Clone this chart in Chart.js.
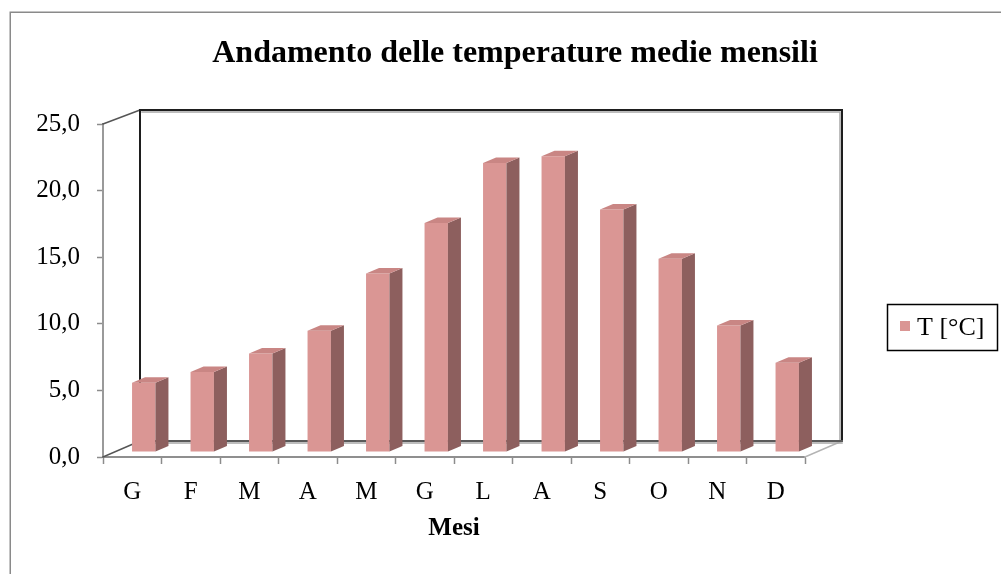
<!DOCTYPE html>
<html lang="it">
<head>
<meta charset="utf-8">
<title>Andamento delle temperature medie mensili</title>
<script src="https://cdn.jsdelivr.net/npm/chart.js@4.4.1/dist/chart.umd.min.js"></script>
<style>
  html, body { margin: 0; padding: 0; background: #ffffff; overflow: hidden; }
  canvas { display: block; }
</style>
</head>
<body>
<canvas id="chart" width="1001" height="574"></canvas>
<script>
// Mesi dell'anno (iniziali)
const months = ['G', 'F', 'M', 'A', 'M', 'G', 'L', 'A', 'S', 'O', 'N', 'D'];
// Temperature medie mensili [°C]
const temperatures = [5.2, 6.0, 7.4, 9.1, 13.4, 17.2, 21.7, 22.2, 18.2, 14.5, 9.5, 6.7];
// Etichette dell'asse verticale
const yTickLabels = ['0,0', '5,0', '10,0', '15,0', '20,0', '25,0'];
const seriesLabel = 'T [°C]';
const chartTitle = 'Andamento delle temperature medie mensili';
const axisTitle = 'Mesi';

const SERIF = "'Liberation Serif', 'Times New Roman', serif";
const FRONT = '#DA9694';
const SIDE = '#8D5F5E';
const TOP = '#C98684';

// Profondità della scena 3D: pareti di fondo e posizione delle colonne
const WALL_DX = 37, WALL_DY_TOP = -14, WALL_DY_BOTTOM = -16;
const BAR_DX = 11.5, BAR_DY = -5;      // spostamento della faccia frontale
const DEPTH_DX = 13, DEPTH_DY = -5.5;  // spessore delle colonne

const scene3d = {
  id: 'scene3d',
  beforeDraw(chart) {
    const ctx = chart.ctx;
    ctx.save();
    ctx.fillStyle = '#ffffff';
    ctx.fillRect(0, 0, chart.width, chart.height);
    ctx.strokeStyle = '#8a8a8a';
    ctx.lineWidth = 1.5;
    ctx.strokeRect(10.25, 12.25, 1400, 1400);
    ctx.restore();
  },
  beforeDatasetsDraw(chart) {
    const ctx = chart.ctx;
    const x = chart.scales.x, y = chart.scales.y;
    const L = x.left, R = x.right;
    const T = y.getPixelForValue(25), B = y.getPixelForValue(0);
    const bl = L + WALL_DX, br = R + WALL_DX;
    const bt = T + WALL_DY_TOP, bb = B + WALL_DY_BOTTOM;
    ctx.save();
    ctx.lineCap = 'square';
    // pavimento: spigoli laterali
    ctx.strokeStyle = '#b4b4b4';
    ctx.lineWidth = 1.5;
    ctx.beginPath();
    ctx.moveTo(R, B); ctx.lineTo(br, bb);
    ctx.stroke();
    ctx.strokeStyle = '#555555';
    ctx.beginPath();
    ctx.moveTo(L, B); ctx.lineTo(bl, bb);
    ctx.moveTo(L, T); ctx.lineTo(bl, bt);
    ctx.stroke();
    // ombra delle pareti di fondo
    ctx.strokeStyle = '#a8a8a8';
    ctx.lineWidth = 1.5;
    ctx.beginPath();
    ctx.moveTo(bl + 2, bt + 2); ctx.lineTo(br - 2, bt + 2);
    ctx.moveTo(br - 2, bt + 2); ctx.lineTo(br - 2, bb - 1);
    ctx.moveTo(bl, bb + 2); ctx.lineTo(br, bb + 2);
    ctx.stroke();
    // pareti di fondo
    ctx.strokeStyle = '#1e1e1e';
    ctx.lineWidth = 2;
    ctx.beginPath();
    ctx.moveTo(bl, bb); ctx.lineTo(bl, bt); ctx.lineTo(br, bt); ctx.lineTo(br, bb);
    ctx.stroke();
    ctx.strokeStyle = '#5a5a5a';
    ctx.beginPath();
    ctx.moveTo(bl, bb); ctx.lineTo(br, bb);
    ctx.stroke();
    ctx.restore();
    // le facce frontali vengono disegnate spostate nella profondità
    ctx.save();
    ctx.translate(BAR_DX, BAR_DY);
  },
  afterDatasetsDraw(chart) {
    const ctx = chart.ctx;
    ctx.restore();
    const meta = chart.getDatasetMeta(0);
    ctx.save();
    meta.data.forEach((bar) => {
      const p = bar.getProps(['x', 'y', 'base', 'width'], true);
      const x0 = p.x - p.width / 2 + BAR_DX;
      const x1 = p.x + p.width / 2 + BAR_DX;
      const yt = p.y + BAR_DY;
      const yb = p.base + BAR_DY;
      // faccia laterale
      ctx.fillStyle = SIDE;
      ctx.beginPath();
      ctx.moveTo(x1, yt);
      ctx.lineTo(x1 + DEPTH_DX, yt + DEPTH_DY);
      ctx.lineTo(x1 + DEPTH_DX, yb + DEPTH_DY);
      ctx.lineTo(x1, yb);
      ctx.closePath();
      ctx.fill();
      // faccia superiore
      ctx.fillStyle = TOP;
      ctx.beginPath();
      ctx.moveTo(x0, yt);
      ctx.lineTo(x0 + DEPTH_DX, yt + DEPTH_DY);
      ctx.lineTo(x1 + DEPTH_DX, yt + DEPTH_DY);
      ctx.lineTo(x1, yt);
      ctx.closePath();
      ctx.fill();
    });
    ctx.restore();
  },
  afterDraw(chart) {
    const ctx = chart.ctx;
    ctx.save();
    // titolo
    ctx.fillStyle = '#000000';
    ctx.font = 'bold 32px ' + SERIF;
    ctx.textAlign = 'center';
    ctx.textBaseline = 'alphabetic';
    ctx.fillText(chartTitle, 515, 62);
    // legenda
    const ds = chart.data.datasets[0];
    ctx.strokeStyle = '#000000';
    ctx.lineWidth = 1.5;
    ctx.strokeRect(887.5, 304.5, 110, 46);
    ctx.fillStyle = ds.backgroundColor;
    ctx.fillRect(900, 321, 10, 10);
    ctx.fillStyle = '#000000';
    ctx.font = '26px ' + SERIF;
    ctx.textAlign = 'left';
    ctx.textBaseline = 'middle';
    ctx.fillText(ds.label, 917, 328);
    ctx.restore();
  }
};

new Chart(document.getElementById('chart'), {
  type: 'bar',
  data: {
    labels: months,
    datasets: [{
      label: seriesLabel,
      data: temperatures,
      backgroundColor: FRONT,
      borderWidth: 0,
      barPercentage: 0.4,
      categoryPercentage: 1.0
    }]
  },
  options: {
    responsive: false,
    animation: false,
    events: [],
    layout: { padding: { top: 124, left: 0, right: 196, bottom: 0 } },
    plugins: {
      legend: { display: false },
      title: { display: false },
      tooltip: { enabled: false }
    },
    scales: {
      x: {
        afterFit(axis) { axis.height = 117; },
        grid: {
          offset: true,
          drawOnChartArea: false,
          drawTicks: true,
          tickLength: 7,
          tickColor: '#8c8c8c',
          tickWidth: 1.5
        },
        border: { display: true, color: '#8f8f8f', width: 2 },
        ticks: {
          padding: 13,
          color: '#000000',
          font: { family: SERIF, size: 25 },
          maxRotation: 0,
          autoSkip: false
        },
        title: {
          display: true,
          text: axisTitle,
          color: '#000000',
          font: { family: SERIF, size: 25, weight: 'bold' },
          padding: { top: 0, bottom: 30 }
        }
      },
      y: {
        min: 0,
        max: 25,
        afterFit(axis) { axis.width = 103; },
        grid: {
          drawOnChartArea: false,
          drawTicks: true,
          tickLength: 6,
          tickColor: '#8c8c8c',
          tickWidth: 1.5
        },
        border: { display: true, color: '#9a9a9a', width: 2 },
        ticks: {
          stepSize: 5,
          padding: 17,
          color: '#000000',
          font: { family: SERIF, size: 25 },
          callback: (value, index) => yTickLabels[index]
        }
      }
    }
  },
  plugins: [scene3d]
});
</script>
</body>
</html>
